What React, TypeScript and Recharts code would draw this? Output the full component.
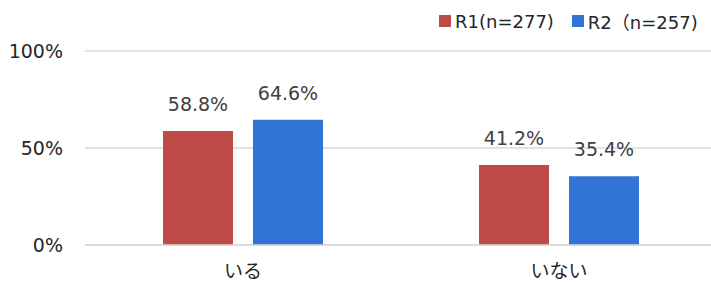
import React from 'react';
import { BarChart, Bar, XAxis, YAxis, CartesianGrid, LabelList } from 'recharts';

const categories = ['いる', 'いない'];
const r1Values = [58.8, 41.2];
const r2Values = [64.6, 35.4];
const yTicks = [0, 50, 100];
const seriesNames = ['R1(n=277)', 'R2（n=257)'];

const COLORS = ['#BE4B48', '#3174D6'];
const FONT = '"DejaVu Sans", "Noto Sans CJK JP", sans-serif';

const data = categories.map((name, i) => ({ name, r1: r1Values[i], r2: r2Values[i] }));

// legend drawn as plain html so it does not push the plot area down
const ChartLegend = () => (
  <div
    style={{
      position: 'absolute',
      left: 439,
      top: 8,
      display: 'flex',
      alignItems: 'center',
      fontFamily: FONT,
      fontSize: 18,
      color: '#262626',
      whiteSpace: 'nowrap',
      zIndex: 2,
    }}
  >
    {seriesNames.map((n, i) => (
      <div key={n} style={{ display: 'flex', alignItems: 'center', marginLeft: i === 0 ? 0 : 18 }}>
        <span style={{ width: 12, height: 12, background: COLORS[i], display: 'inline-block', marginRight: 4 }} />
        <span>{n}</span>
      </div>
    ))}
  </div>
);

const fmt = (v: number) => `${v.toFixed(1)}%`;

export default function App() {
  return (
    <div style={{ position: 'absolute', left: 0, top: 0, width: 711, height: 284, overflow: 'hidden', background: '#fff' }}>
      <ChartLegend />
      <BarChart
        width={720}
        height={284}
        data={data}
        margin={{ top: 51, right: 3, bottom: 9, left: 0 }}
        barSize={70}
        barGap={20}
      >
        <CartesianGrid vertical={false} stroke="#d9d9d9" strokeWidth={1.5} />
        <XAxis
          dataKey="name"
          height={30}
          tickLine={false}
          axisLine={{ stroke: '#d9d9d9', strokeWidth: 1.5 }}
          tick={{ fontSize: 19, fill: '#262626', fontFamily: FONT }}
          tickMargin={14}
        />
        <YAxis
          width={85}
          domain={[0, 100]}
          ticks={yTicks}
          tickFormatter={(v: number) => `${v}%`}
          axisLine={false}
          tickLine={false}
          tick={{ fontSize: 19, fill: '#262626', fontFamily: FONT }}
          tickMargin={16}
        />
        <Bar dataKey="r1" name={seriesNames[0]} fill={COLORS[0]} isAnimationActive={false}>
          <LabelList dataKey="r1" position="top" offset={20} formatter={fmt} style={{ fontSize: 19, fill: '#404040', fontFamily: FONT }} />
        </Bar>
        <Bar dataKey="r2" name={seriesNames[1]} fill={COLORS[1]} isAnimationActive={false}>
          <LabelList dataKey="r2" position="top" offset={20} formatter={fmt} style={{ fontSize: 19, fill: '#404040', fontFamily: FONT }} />
        </Bar>
      </BarChart>
    </div>
  );
}
